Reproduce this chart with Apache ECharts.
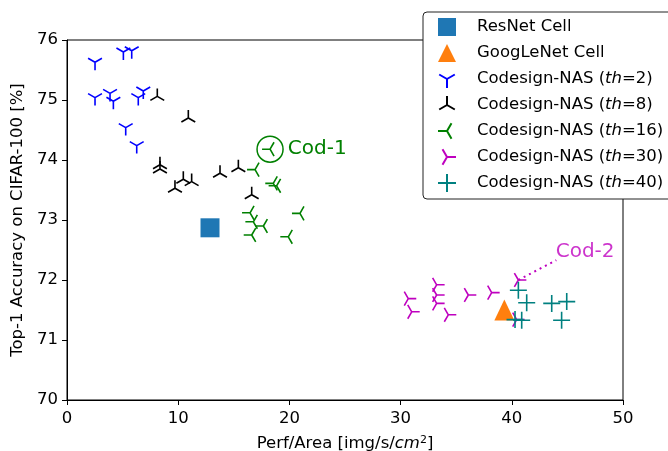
<!DOCTYPE html>
<html><head><meta charset="utf-8">
<script src="https://cdn.jsdelivr.net/npm/echarts@6/dist/echarts.min.js"></script>
<style>html,body{margin:0;padding:0;background:#fff}#c{width:668px;height:451px}</style>
</head><body><div id="c"></div>
<script>
// ---- data ----
const resnet = [[12.86, 72.87]];
const googlenet = [[39.33, 71.50]];
const th2 = [[2.52,75.63],[5.07,75.80],[5.82,75.82],[2.52,75.04],[3.87,75.11],[4.17,74.98],[6.41,75.04],[6.86,75.15],[5.28,74.54],[6.27,74.24]];
const th8 = [[8.12,75.06],[10.91,74.70],[8.36,73.92],[8.36,73.85],[9.71,73.53],[10.46,73.68],[11.21,73.64],[13.76,73.78],[15.41,73.87],[16.61,73.42]];
const th16 = [[18.26,74.18],[16.91,73.84],[18.55,73.61],[18.85,73.57],[16.46,73.12],[16.76,72.97],[17.66,72.90],[16.61,72.75],[20.95,73.11],[19.90,72.72]];
const th30 = [[30.69,71.69],[31.00,71.47],[33.24,71.92],[33.24,71.75],[33.24,71.61],[34.29,71.42],[36.09,71.75],[38.19,71.79],[40.59,72.00],[40.44,71.34]];
const th40 = [[40.59,71.83],[41.34,71.62],[43.59,71.61],[44.94,71.64],[44.48,71.33],[40.29,71.34],[40.89,71.33]];
const cod1 = [[18.26, 74.18]];
const cod2Leader = [[40.59, 72.00], [44.0, 72.33]];
const cod2LabelAt = [[43.95, 72.47]];
const seriesNames = ['ResNet Cell','GoogLeNet Cell','Codesign-NAS (th=2)','Codesign-NAS (th=8)','Codesign-NAS (th=16)','Codesign-NAS (th=30)','Codesign-NAS (th=40)'];
const xTicks = {min: 0, max: 50, interval: 10};
const yTicks = {min: 70, max: 76, interval: 1};

// ---- symbols ----
const B = 'M-10 -10 M10 10 ';
const triDown = 'path://' + B + 'M0 0 L0 10 M0 0 L-8.66 -5 M0 0 L8.66 -5';
const triUp = 'path://' + B + 'M0 0 L0 -10 M0 0 L-8.66 5 M0 0 L8.66 5';
const triLeft = 'path://' + B + 'M0 0 L-10 0 M0 0 L5 -8.66 M0 0 L5 8.66';
const triRight = 'path://' + B + 'M0 0 L10 0 M0 0 L-5 -8.66 M0 0 L-5 8.66';
const plus = 'path://M-10 0 L10 0 M0 -10 L0 10';
const square = 'path://M0 0 L10 0 L10 10 L0 10 Z';
const tri = 'path://M0 -10 L10 10 L-10 10 Z';

const FONT = 'DejaVu Sans';
const FS = 16.5;
const LH = 20;
function lineMarker(name, data, symbol, color, size) {
  return {name, type: 'scatter', data, symbol, symbolSize: size || 16,
    itemStyle: {color: 'rgba(0,0,0,0)', borderColor: color, borderWidth: 1.6, opacity: 1},
    emphasis: {disabled: true}};
}
const chart = echarts.init(document.getElementById('c'), null, {renderer: 'canvas'});
chart.setOption({
  animation: false,
  backgroundColor: '#fff',
  textStyle: {fontFamily: FONT},
  grid: {left: 67, right: 45, top: 40, bottom: 51, show: true, borderColor: '#000', borderWidth: 1, outerBoundsMode: 'none', containLabel: false},
  legend: {
    data: seriesNames, orient: 'vertical', left: 423, top: 12,
    padding: [5, 12, 6, 14], itemWidth: 18, itemHeight: 18, itemGap: 6,
    backgroundColor: '#fff', borderColor: '#222', borderWidth: 1, borderRadius: 4,
    selectedMode: false,
    formatter: n => '{g|}' + n.replace('th=', '{it|th}='),
    textStyle: {fontSize: FS, lineHeight: LH, color: '#000', fontFamily: FONT,
      rich: {g: {width: 16, lineHeight: LH, fontSize: FS},
             it: {fontSize: FS, lineHeight: LH, fontStyle: 'italic', color: '#000', fontFamily: FONT}}}
  },
  xAxis: {
    type: 'value', min: xTicks.min, max: xTicks.max, interval: xTicks.interval,
    name: 'Perf/Area [img/s/{it|cm}{sup|2}]', nameLocation: 'middle', nameGap: 35,
    nameTextStyle: {fontSize: FS, color: '#000', fontFamily: FONT,
      rich: {it: {fontSize: FS, fontStyle: 'italic', color: '#000', fontFamily: FONT},
             sup: {fontSize: 11, verticalAlign: 'top', color: '#000', fontFamily: FONT}}},
    axisLine: {show: true, onZero: false, lineStyle: {color: '#000', width: 1}},
    axisTick: {show: true, length: 5, lineStyle: {color: '#000'}},
    axisLabel: {fontSize: FS, color: '#000', margin: 10, fontFamily: FONT},
    splitLine: {show: false}
  },
  yAxis: {
    type: 'value', min: yTicks.min, max: yTicks.max, interval: yTicks.interval,
    name: 'Top-1 Accuracy on CIFAR-100 [%]', nameLocation: 'middle', nameGap: 37,
    nameTextStyle: {fontSize: FS, color: '#000', fontFamily: FONT},
    axisLine: {show: true, onZero: false, lineStyle: {color: '#000', width: 1}},
    axisTick: {show: true, length: 5, lineStyle: {color: '#000'}},
    axisLabel: {fontSize: FS, color: '#000', margin: 9, fontFamily: FONT},
    splitLine: {show: false}
  },
  series: [
    {name: seriesNames[0], type: 'scatter', data: resnet, symbol: square, symbolSize: 19, itemStyle: {color: '#1f77b4', opacity: 1}},
    {name: seriesNames[1], type: 'scatter', data: googlenet, symbol: tri, symbolSize: [20, 21], itemStyle: {color: '#ff7f0e', opacity: 1}},
    lineMarker(seriesNames[2], th2, triDown, '#0000ff'),
    lineMarker(seriesNames[3], th8, triUp, '#000000'),
    lineMarker(seriesNames[4], th16, triLeft, '#008000'),
    lineMarker(seriesNames[5], th30, triRight, '#bf00bf'),
    lineMarker(seriesNames[6], th40, plus, '#008080', 17),
    {name: 'cod1', type: 'scatter', data: cod1, symbol: 'circle', symbolSize: 26,
      itemStyle: {color: 'rgba(0,0,0,0)', borderColor: '#008000', borderWidth: 1.5, opacity: 1},
      label: {show: true, position: 'right', distance: 4, formatter: 'Cod-1', color: '#008000', fontSize: 20, fontFamily: FONT}},
    {name: 'cod2line', type: 'line', data: cod2Leader, symbol: 'none',
      lineStyle: {color: '#bf00bf', width: 2, type: [2, 4], opacity: 1}},
    {name: 'cod2', type: 'scatter', data: cod2LabelAt, symbolSize: 0,
      label: {show: true, position: 'right', distance: 0, formatter: 'Cod-2', color: '#bf00bf', fontSize: 20, fontFamily: FONT}}
  ]
});
</script></body></html>
